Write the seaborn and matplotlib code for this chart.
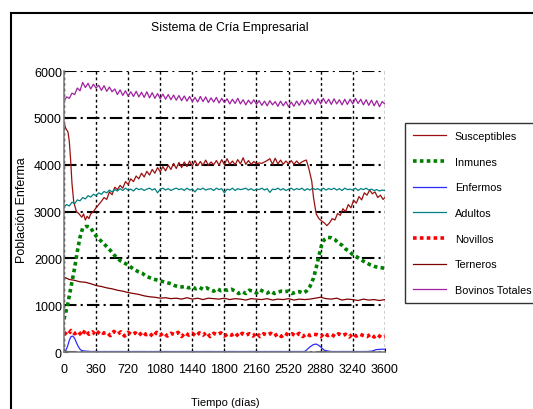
import numpy as np
import matplotlib
matplotlib.use("Agg")
import matplotlib.pyplot as plt
import seaborn as sns
from matplotlib.lines import Line2D

# Datos (tiempo en días)
tot_v = [5360, 5450, 5420, 5530, 5500, 5640, 5580, 5760, 5650, 5740, 5620, 5720, 5640,
         5700, 5590, 5690, 5570, 5660, 5560, 5620, 5500, 5600, 5480, 5580, 5470, 5560,
         5460, 5570, 5450, 5550, 5440, 5560, 5430, 5540, 5420, 5520, 5410, 5510, 5400,
         5500, 5390, 5490, 5380, 5480, 5370, 5470, 5360, 5460, 5350, 5440, 5340, 5460,
         5350, 5450, 5330, 5430, 5340, 5440, 5320, 5420, 5330, 5410, 5300, 5400, 5310,
         5420, 5300, 5390, 5280, 5380, 5300, 5390, 5290, 5370, 5270, 5360, 5260, 5370,
         5280, 5350, 5250, 5360, 5260, 5350, 5240, 5340, 5250, 5360, 5270, 5380, 5280,
         5390, 5300, 5400, 5290, 5410, 5300, 5420, 5310, 5400, 5290, 5410, 5300, 5390,
         5280, 5400, 5290, 5400, 5300, 5420, 5310, 5400, 5280, 5390, 5270, 5380, 5260,
         5370, 5240, 5350, 5300]

sus_t = [0, 20, 45, 60, 75, 90, 110, 140, 170, 200, 220, 240, 260, 280, 300, 330, 360,
         390, 420, 450, 480, 510, 540, 570, 600, 630, 660, 690, 720, 750, 780, 810, 840,
         870, 900, 930, 960, 990, 1020, 1050, 1080, 1110, 1140, 1170, 1200, 1230, 1260,
         1290, 1320, 1350, 1380, 1410, 1440, 1470, 1500, 1530, 1560, 1590, 1620, 1650,
         1680, 1710, 1740, 1770, 1800, 1830, 1860, 1890, 1920, 1950, 1980, 2010, 2040,
         2070, 2100, 2130, 2160, 2190, 2220, 2250, 2280, 2310, 2340, 2370, 2400, 2430,
         2460, 2490, 2520, 2550, 2580, 2610, 2640, 2670, 2700, 2720, 2750, 2780, 2800,
         2830, 2860, 2890, 2920, 2950, 2980, 3010, 3040, 3070, 3100, 3130, 3160, 3190,
         3220, 3250, 3280, 3310, 3340, 3370, 3400, 3430, 3460, 3490, 3520, 3550, 3580, 3600]
sus_v = [4900, 4780, 4700, 4500, 4100, 3600, 3200, 3000, 2950, 2880, 2950, 2820, 2900,
         2850, 2950, 3000, 3080, 3150, 3220, 3300, 3260, 3420, 3360, 3520, 3470, 3560,
         3500, 3640, 3580, 3700, 3640, 3760, 3700, 3820, 3740, 3860, 3780, 3900, 3820,
         3940, 3850, 3960, 3870, 3990, 3900, 4030, 3920, 4050, 3940, 4060, 3960, 4080,
         3970, 4090, 3980, 4070, 3990, 4100, 3990, 4060, 4000, 4090, 3990, 4110, 4000,
         4130, 4010, 4080, 4000, 4110, 4020, 4150, 4010, 4090, 4010, 4070, 4020, 4040,
         4030, 4060, 4090, 4130, 4010, 4140, 4020, 4100, 4010, 4080, 4020, 4090, 4010,
         4080, 4020, 4060, 4090, 4100, 3900, 3650, 3300, 2950, 2850, 2800, 2760, 2700,
         2760, 2850, 2820, 2960, 2920, 3060, 3000, 3150, 3080, 3240, 3180, 3320, 3250,
         3400, 3350, 3460, 3380, 3420, 3300, 3350, 3260, 3300]

adu_v = [3100, 3150, 3120, 3200, 3170, 3250, 3230, 3300, 3270, 3340, 3310, 3370, 3340,
         3400, 3370, 3430, 3400, 3460, 3420, 3470, 3440,
         3490, 3450, 3500, 3460, 3480, 3440, 3500, 3470, 3490, 3450,
         3480, 3500, 3460, 3490, 3400, 3480, 3500, 3460, 3490, 3450,
         3480, 3500, 3470, 3490, 3450, 3500, 3460, 3480, 3420, 3490,
         3470, 3500, 3460, 3480, 3490, 3450, 3500, 3470, 3490, 3400,
         3480, 3460, 3500, 3450, 3490, 3470, 3480, 3500, 3460, 3490,
         3450, 3480, 3470, 3500, 3460, 3490, 3410, 3480, 3470, 3500,
         3460, 3490, 3450, 3480, 3500, 3460, 3490, 3470, 3500, 3450,
         3490, 3460, 3500, 3470, 3490, 3450, 3500, 3460, 3490, 3470,
         3500, 3460, 3490, 3450, 3500, 3470, 3480, 3460, 3500, 3450,
         3490, 3470, 3500, 3460, 3480, 3450, 3470, 3440, 3460, 3450]

inm_t = [0, 40, 80, 120, 150, 180, 210, 240, 270, 300, 330, 360, 400, 440, 480, 520, 560,
         600, 640, 680, 720, 760, 800, 840, 880, 920, 960, 1000, 1040, 1080, 1120, 1160,
         1200, 1240, 1280, 1320, 1360, 1400, 1440, 1480, 1520, 1560, 1600, 1640, 1680,
         1720, 1760, 1800, 1840, 1880, 1920, 1960, 2000, 2040, 2080, 2120, 2160, 2200,
         2240, 2280, 2320, 2360, 2400, 2440, 2480, 2520, 2560, 2600, 2640, 2680, 2720,
         2760, 2800, 2830, 2860, 2890, 2920, 2960, 3000, 3040, 3080, 3120, 3160, 3200,
         3240, 3280, 3320, 3360, 3400, 3440, 3480, 3520, 3560, 3600]
inm_v = [700, 1000, 1400, 1800, 2150, 2450, 2650, 2680, 2680, 2660, 2550, 2480, 2400,
         2330, 2250, 2170, 2080, 2000, 1940, 1900, 1860, 1800, 1750, 1710, 1680, 1620,
         1590, 1560, 1540, 1520, 1500, 1480, 1460, 1420, 1400, 1390, 1400, 1370, 1390,
         1350, 1380, 1340, 1370, 1330, 1300, 1350, 1310, 1330, 1320, 1340, 1300, 1250,
         1290, 1250, 1320, 1300, 1260, 1330, 1290, 1260, 1300, 1250, 1280, 1300, 1290,
         1300, 1250, 1280, 1290, 1260, 1300, 1400, 1580, 1800, 2050, 2280, 2400, 2450,
         2440, 2400, 2330, 2280, 2200, 2150, 2080, 2040, 1990, 1940, 1900, 1860, 1830,
         1810, 1800, 1790]

enf_t = [0, 20, 40, 60, 80, 100, 120, 140, 160, 180, 200, 240, 300, 360, 1000, 2000,
         2700, 2720, 2760, 2800, 2830, 2860, 2890, 2920, 2960, 3000, 3400, 3460, 3500,
         3560, 3600]
enf_v = [0, 30, 120, 250, 330, 340, 290, 200, 120, 60, 30, 20, 10, 10, 10, 10,
         10, 40, 110, 160, 170, 140, 90, 40, 20, 10, 10, 20, 50, 60, 60]

nov_v = [420, 360, 460, 390, 440, 350, 470, 380, 430, 360, 450, 400, 420, 350, 440, 380,
         430, 340, 420, 370, 410, 350, 430, 370, 400, 330, 420, 360, 410, 340, 400, 370,
         420, 330, 410, 360, 400, 340, 410, 360, 420, 330, 400, 370, 410, 340, 390, 360,
         410, 330, 400, 360, 390, 340, 410, 330, 390, 360, 400, 340, 390, 330, 400, 360,
         390, 340, 400, 330, 390, 350, 380, 370, 330, 400, 350, 380, 330, 390, 350, 380,
         320, 390, 340, 380, 350, 330, 380, 320, 370, 310, 330]

ter_t = [0, 60, 120, 180, 240, 300, 360, 420, 480, 540, 600, 660, 720, 780, 840, 900,
         960, 1020, 1080, 1140, 1200, 1260, 1320, 1380, 1440, 1500, 1560, 1620, 1680,
         1740, 1800, 1860, 1920, 1980, 2040, 2100, 2160, 2220, 2280, 2340, 2400, 2460,
         2520, 2580, 2640, 2700, 2760, 2820, 2880, 2940, 3000, 3060, 3120, 3180, 3240,
         3300, 3360, 3420, 3480, 3540, 3600]
ter_v = [1600, 1550, 1530, 1500, 1490, 1460, 1420, 1400, 1370, 1350, 1320, 1300, 1270,
         1250, 1230, 1200, 1180, 1170, 1150, 1160, 1140, 1150, 1130, 1160, 1130, 1150,
         1120, 1150, 1140, 1130, 1150, 1120, 1140, 1130, 1110, 1140, 1130, 1120, 1140,
         1110, 1130, 1120, 1140, 1110, 1130, 1120, 1130, 1150, 1170, 1140, 1130, 1150,
         1110, 1130, 1120, 1100, 1130, 1110, 1120, 1100, 1120]

xticks = list(range(0, 3601, 360))
yticks = list(range(0, 6001, 1000))

plt.rcParams['font.family'] = ['Liberation Sans', 'DejaVu Sans']
plt.rcParams['font.size'] = 9

fig = plt.figure(figsize=(5.33, 4.10), dpi=100)
ax = fig.add_axes([0.120, 0.139, 0.602, 0.685])

dots = (0, (1, 0.9))
series = [
    (sus_t, sus_v, "Susceptibles", "#9a1010", 0.9, "-"),
    (inm_t, inm_v, "Inmunes", "#008000", 2.6, dots),
    (enf_t, enf_v, "Enfermos", "#2b2bff", 0.9, "-"),
    (np.linspace(0, 3600, len(adu_v)), adu_v, "Adultos", "#008080", 0.9, "-"),
    (np.linspace(0, 3600, len(nov_v)), nov_v, "Novillos", "#ff0000", 2.6, dots),
    (ter_t, ter_v, "Terneros", "#800000", 0.9, "-"),
    (np.linspace(0, 3600, len(tot_v)), tot_v, "Bovinos Totales", "#a020a0", 0.9, "-"),
]
handles = []
for t, v, name, col, lw, ls in series:
    sns.lineplot(x=t, y=v, ax=ax, color=col, linewidth=lw, linestyle=ls, legend=False)
    handles.append(Line2D([], [], color=col, linewidth=lw, linestyle=ls, label=name))

ax.set_xlim(0, 3600)
ax.set_ylim(0, 6000)
ax.set_xticks(xticks)
ax.set_yticks(yticks)
ax.set_xlabel("")
ax.set_ylabel("")
ax.set_axisbelow(True)
ax.yaxis.grid(True, linestyle=(0, (6, 2, 1, 2)), color="black", linewidth=1.5)
ax.xaxis.grid(True, linestyle=(0, (2, 2)), color="black", linewidth=1.0)
for s in ["top", "right"]:
    ax.spines[s].set_visible(False)
for s in ["left", "bottom"]:
    ax.spines[s].set_color("#808080")
    ax.spines[s].set_linewidth(1.2)
ax.tick_params(axis="y", direction="in", length=3, pad=1.5, labelsize=9)
ax.tick_params(axis="x", direction="in", length=3, pad=8, labelsize=9)

fig.text(0.432, 0.932, "Sistema de Cría Empresarial", ha="center", va="center", fontsize=8.8)
fig.text(0.422, 0.017, "Tiempo (días)", ha="center", va="center", fontsize=8)
fig.text(0.041, 0.488, "Población Enferma", ha="center", va="center", rotation=90, fontsize=9)

leg = fig.legend(handles=handles, loc="upper left", bbox_to_anchor=(0.760, 0.698),
                 frameon=True, fancybox=False, edgecolor="black", fontsize=7.8,
                 handlelength=3.0, handletextpad=0.85, labelspacing=1.45,
                 borderpad=0.75, borderaxespad=0)
leg.get_frame().set_linewidth(1.0)

fig.add_artist(Line2D([11 / 533, 1.0], [1 - 14 / 410, 1 - 14 / 410], color="black", linewidth=1.5))
fig.add_artist(Line2D([11 / 533, 11 / 533], [0, 1 - 14 / 410], color="black", linewidth=1.5))

fig.savefig("out.png", dpi=100)
